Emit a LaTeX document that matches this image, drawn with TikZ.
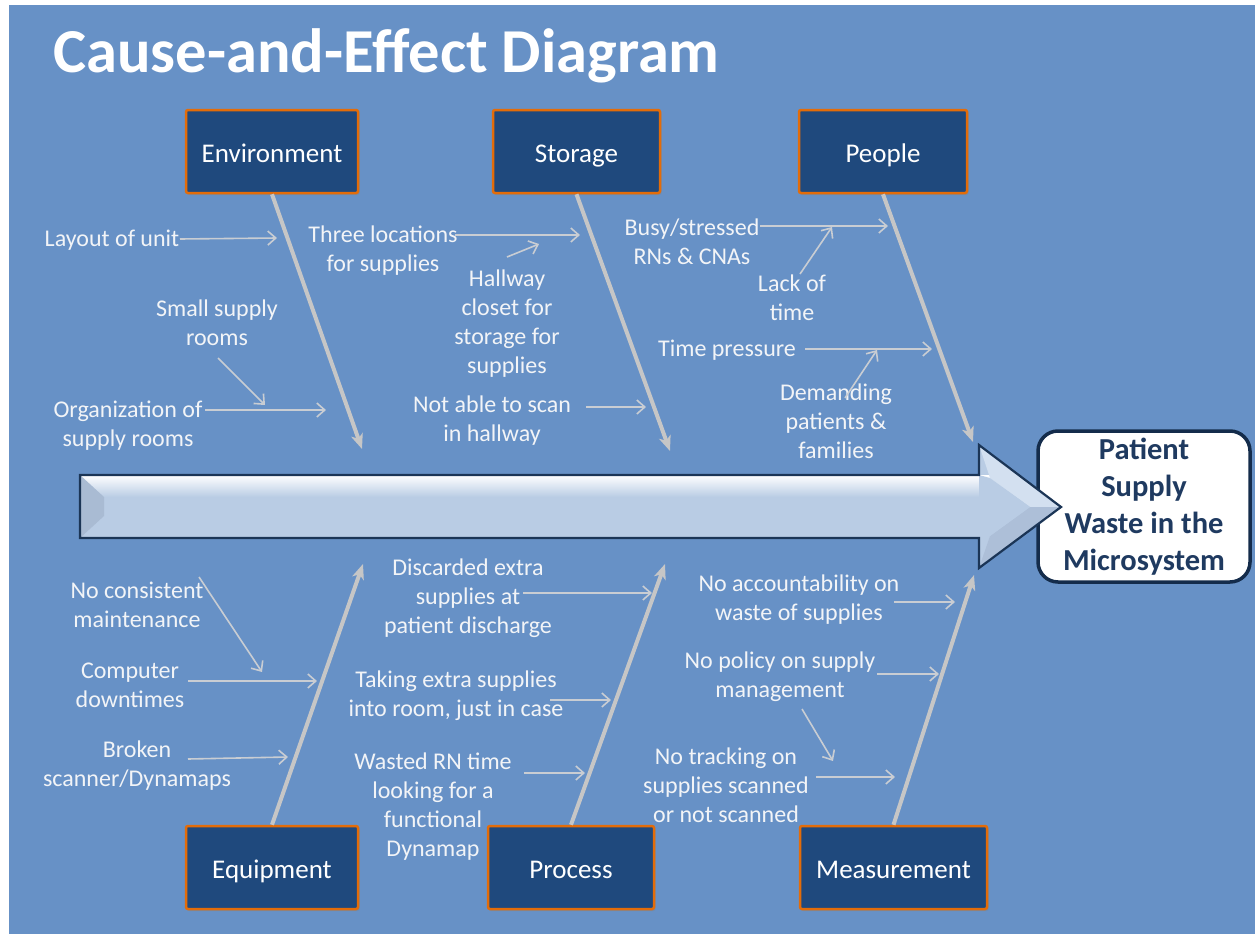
\documentclass[tikz,border=0pt]{standalone}
\usepackage{fontspec}
\setmainfont{Carlito}
\usetikzlibrary{arrows.meta,shadows}
\definecolor{bgblue}{HTML}{6791C6}
\definecolor{catfill}{HTML}{1F497D}
\definecolor{catborder}{HTML}{E36C09}
\definecolor{spinecol}{HTML}{C6C6C6}
\definecolor{twigcol}{HTML}{C9CDD3}
\definecolor{causetext}{HTML}{F2F4F7}
\definecolor{effecttext}{HTML}{1F3A60}
\definecolor{effectborder}{HTML}{142C4B}
\definecolor{arrowbody}{HTML}{B9CCE4}
\definecolor{arrowedge}{HTML}{1B3556}
\definecolor{bevelleft}{HTML}{A9BBD3}
\definecolor{facettop}{HTML}{D3E0F0}
\definecolor{facetbot}{HTML}{ADBFD8}
\begin{document}
\begin{tikzpicture}[x=1pt,y=-1pt,
  catbox/.style={rectangle, rounded corners=2pt, fill=catfill, draw=catborder,
    line width=2.5pt, minimum height=83pt, text=white, inner sep=0pt,
    text height=27pt, text depth=6pt,
    font=\fontsize{27}{32}\selectfont,
    drop shadow={shadow xshift=1.5pt, shadow yshift=-2pt, opacity=0.35}},
  cause/.style={align=center, text=causetext, inner sep=0pt,
    font=\fontsize{24}{29}\selectfont},
  spine/.style={draw=spinecol, line width=4pt,
    -{Stealth[length=15pt, width=12pt, inset=4pt]}},
  twig/.style={draw=twigcol, line width=1.6pt,
    -{Straight Barb[length=8pt, width=14pt, line width=1.6pt]}},
  effectbox/.style={rectangle, rounded corners=20pt, fill=white,
    draw=effectborder, line width=3.5pt, minimum width=212pt,
    minimum height=151pt, align=center, text=effecttext, inner sep=0pt,
    font=\bfseries\fontsize{30.5}{37}\selectfont}]
\fill[white] (0,0) rectangle (1255,934);
\fill[bgblue] (9,5) rectangle (1255,934);
\useasboundingbox (0,0) rectangle (1255,934);

% title
\node[anchor=base west, text=white, inner sep=0pt,
  font=\bfseries\fontsize{62.5}{70}\selectfont] (title) at (53,73) {Cause-and-Effect Diagram};

% effect
\node[effectbox] (effect) at (1144,506.5) {Patient\\Supply\\Waste in the\\Microsystem};

% main arrow (drawn over the effect box edge)
\begin{scope}
  \clip (80,475) -- (979,475) -- (979,445) -- (1061,507) -- (979,568) -- (979,538) -- (80,538) -- cycle;
  \fill[arrowbody] (70,440) rectangle (1070,575);
  \shade[top color=white, bottom color=arrowbody] (70,475) rectangle (1070,497);
  \fill[bevelleft] (80,475) -- (104,497) -- (104,516) -- (80,538) -- cycle;
  \fill[facettop] (979,445) -- (1061,507) -- (1030,507) -- (990,478) -- cycle;
  \fill[facetbot] (979,568) -- (1061,507) -- (1030,507) -- (990,536) -- cycle;
  \fill[arrowbody] (979,475) -- (990,478) -- (1030,507) -- (990,536) -- (979,538) -- cycle;
\end{scope}
\draw[arrowedge, line width=2.2pt, line join=miter]
  (80,475) -- (979,475) -- (979,445) -- (1061,507) -- (979,568) -- (979,538) -- (80,538) -- cycle;

% category boxes
\node[catbox, minimum width=172pt] (env)   at (272,151.5) {Environment};
\node[catbox, minimum width=167pt] (stor)  at (576.5,151.5) {Storage};
\node[catbox, minimum width=168pt] (peop)  at (883,151.5) {People};
\node[catbox, minimum width=172pt] (equip) at (272,867.5) {Equipment};
\node[catbox, minimum width=166pt] (proc)  at (571,867.5) {Process};
\node[catbox, minimum width=187pt] (meas)  at (893.5,867.5) {Measurement};

% spine tips
\coordinate (envtip)   at (362,449);
\coordinate (stortip)  at (670,451);
\coordinate (peoptip)  at (973,442);
\coordinate (equiptip) at (363,564);
\coordinate (proctip)  at (665,564);
\coordinate (meastip)  at (974,575);

\draw[spine] (env.south) -- (envtip);
\draw[spine] (stor.south) -- (stortip);
\draw[spine] (peop.south) -- (peoptip);
\draw[spine] (equip.north) -- (equiptip);
\draw[spine] (proc.north) -- (proctip);
\draw[spine] (meas.north) -- (meastip);

% cause texts
\node[cause] (layout)    at (112,240) {Layout of unit};
\node[cause] (three)     at (383,251) {Three locations\\for supplies};
\node[cause] (small)     at (217,323) {Small supply\\rooms};
\node[cause] (org)       at (128,426) {Organization of\\supply rooms};
\node[cause] (hallway)   at (507,324) {Hallway\\closet for\\storage for\\supplies};
\node[cause] (notable)   at (492,421) {Not able to scan\\in hallway};
\node[cause] (busy)      at (692,242) {Busy/stressed\\RNs \& CNAs};
\node[cause] (lack)      at (792,298) {Lack of\\time};
\node[cause] (timep)     at (727,350) {Time pressure};
\node[cause] (demand)    at (836,421) {Demanding\\patients \&\\families};
\node[cause] (nocons)    at (137,605) {No consistent\\maintenance};
\node[cause] (computer)  at (130,685) {Computer\\downtimes};
\node[cause] (broken)    at (137,766) {Broken\\scanner/Dynamaps};
\node[cause] (discarded) at (468,598) {Discarded extra\\supplies at\\patient discharge};
\node[cause] (taking)    at (456,696) {Taking extra supplies\\into room, just in case};
\node[cause] (wasted)    at (433,807) {Wasted RN time\\looking for a\\functional\\Dynamap};
\node[cause] (noacc)     at (799,600) {No accountability on\\waste of supplies};
\node[cause] (nopol)     at (780,677) {No policy on supply\\management};
\node[cause] (notrack)   at (726,785) {No tracking on\\supplies scanned\\or not scanned};

% twig coordinates
\coordinate (a1s) at (180,239);  \coordinate (a1e) at (277,238);
\coordinate (a2s) at (455,235);  \coordinate (a2e) at (580,235);
\coordinate (a3s) at (507,257);  \coordinate (a3e) at (539,244);
\coordinate (a4s) at (218,358);  \coordinate (a4e) at (265,405);
\coordinate (a5s) at (205,410);  \coordinate (a5e) at (326,410);
\coordinate (a6s) at (586,407);  \coordinate (a6e) at (646,407);
\coordinate (a7s) at (760,226);  \coordinate (a7e) at (888,226);
\coordinate (a8s) at (800,274);  \coordinate (a8e) at (832,227);
\coordinate (a9s) at (805,349);  \coordinate (a9e) at (932,349);
\coordinate (a10s) at (845,398); \coordinate (a10e) at (877,350);
\coordinate (b1s) at (199,577);  \coordinate (b1e) at (262,672);
\coordinate (b2s) at (188,681);  \coordinate (b2e) at (317,681);
\coordinate (b3s) at (188,759);  \coordinate (b3e) at (288,757);
\coordinate (b4s) at (523,593);  \coordinate (b4e) at (652,593);
\coordinate (b5s) at (550,700);  \coordinate (b5e) at (611,700);
\coordinate (b6s) at (524,773);  \coordinate (b6e) at (585,773);
\coordinate (b7s) at (894,602);  \coordinate (b7e) at (955,602);
\coordinate (b8s) at (877,674);  \coordinate (b8e) at (939,674);
\coordinate (b9s) at (802,709);  \coordinate (b9e) at (833,761);
\coordinate (b10s) at (816,777); \coordinate (b10e) at (895,777);

\foreach \t in {a1,a2,a3,a4,a5,a6,a7,a8,a9,a10,b1,b2,b3,b4,b5,b6,b7,b8,b9,b10}
  \draw[twig] (\t s) -- (\t e);
\end{tikzpicture}
\end{document}
